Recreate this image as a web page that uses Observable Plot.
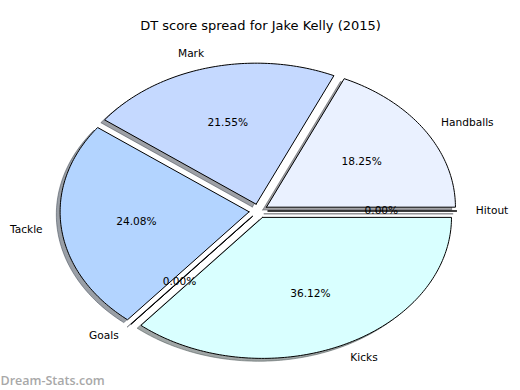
<!DOCTYPE html>
<html><head><meta charset="utf-8">
<script src="https://cdn.jsdelivr.net/npm/d3@7"></script>
<script src="https://cdn.jsdelivr.net/npm/@observablehq/plot@0.6"></script>
<style>body{margin:0;background:#fff;} #chart svg{display:block;}</style>
</head><body><div id="chart"></div>
<script>
const title = "DT score spread for Jake Kelly (2015)";
const watermark = "Dream-Stats.com";
const categories = ["Handballs", "Mark", "Tackle", "Goals", "Kicks", "Hitout"];
const values = [18.25, 21.55, 24.08, 0.00, 36.12, 0.00];
const colors = ["#eaf1ff", "#c5d9ff", "#b3d4ff", "#c5d9ff", "#d9ffff", "#eaf1ff"];

const explode = 0.05, labelDist = 1.1, pctDist = 0.6, shadowOff = 0.02;
const total = d3.sum(values);
const ends = d3.cumsum(values);

function darken(c) {
  const r = d3.rgb(c);
  return d3.rgb(r.r * 0.3, r.g * 0.3, r.b * 0.3).formatHex();
}

const slices = categories.map((name, i) => {
  const t1 = (ends[i] - values[i]) / total * 2 * Math.PI;
  const t2 = ends[i] / total * 2 * Math.PI;
  const tm = (t1 + t2) / 2;
  const ox = explode * Math.cos(tm), oy = explode * Math.sin(tm);
  return {name, value: values[i], color: colors[i], shadow: darken(colors[i]), t1, t2, tm, ox, oy};
});

function wedgePoints(s, dx, dy) {
  const pts = [{name: s.name, x: s.ox + dx, y: s.oy + dy}];
  const n = Math.max(1, Math.ceil((s.t2 - s.t1) / (Math.PI / 180)));
  for (let k = 0; k <= n; k++) {
    const t = s.t1 + (s.t2 - s.t1) * k / n;
    pts.push({name: s.name, x: s.ox + dx + Math.cos(t), y: s.oy + dy + Math.sin(t)});
  }
  pts.push({name: s.name, x: s.ox + dx, y: s.oy + dy});
  return pts;
}

const marks = [];
slices.forEach(s => {
  marks.push(Plot.line(wedgePoints(s, -shadowOff, -shadowOff), {
    x: "x", y: "y", fill: s.shadow, fillOpacity: 0.5, stroke: s.shadow, strokeOpacity: 0.5, strokeWidth: 1, curve: "linear"
  }));
  marks.push(Plot.line(wedgePoints(s, 0, 0), {
    x: "x", y: "y", fill: s.color, stroke: "black", strokeWidth: 1, curve: "linear"
  }));
});

const labels = slices.map(s => ({
  name: s.name,
  lx: s.ox + labelDist * Math.cos(s.tm), ly: s.oy + labelDist * Math.sin(s.tm),
  px: s.ox + pctDist * Math.cos(s.tm), py: s.oy + pctDist * Math.sin(s.tm),
  pct: (s.value / total * 100).toFixed(2) + "%"
}));

const font = {fontFamily: "DejaVu Sans", fontSize: 10.6, fill: "black"};
marks.push(Plot.text(labels.filter(d => d.lx > 0), {x: "lx", y: "ly", text: "name", textAnchor: "start", ...font}));
marks.push(Plot.text(labels.filter(d => d.lx <= 0), {x: "lx", y: "ly", text: "name", textAnchor: "end", ...font}));
marks.push(Plot.text(labels, {x: "px", y: "py", text: "pct", textAnchor: "middle", ...font}));
marks.push(Plot.text([title], {frameAnchor: "top", dy: 25, lineAnchor: "middle", fontFamily: "DejaVu Sans", fontSize: 13, fill: "black"}));
marks.push(Plot.text([watermark], {frameAnchor: "bottom-left", dx: 0, dy: -10, lineAnchor: "middle", textAnchor: "start", fontFamily: "Open Sans", fontWeight: 600, fontSize: 12.5, fill: "#a8a8a8"}));

const cx = 258, cy = 210.5, rx = 189, ry = 141;
const chart = Plot.plot({
  width: 520, height: 390,
  margin: 0,
  x: {domain: [-1, 1], range: [cx - rx, cx + rx], axis: null},
  y: {domain: [-1, 1], range: [cy + ry, cy - ry], axis: null},
  style: {background: "white", overflow: "visible"},
  marks
});
document.getElementById("chart").appendChild(chart);
</script>
</body></html>
